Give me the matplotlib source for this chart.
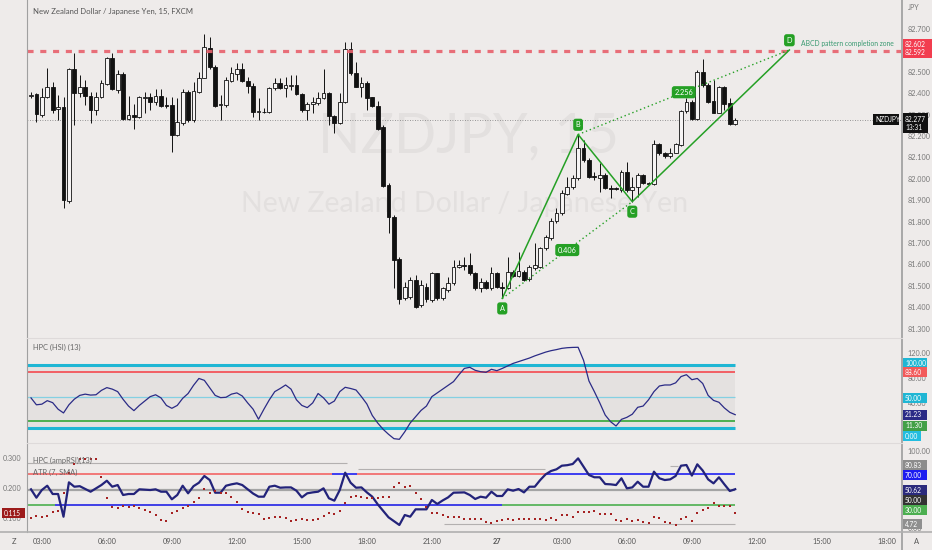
import matplotlib
matplotlib.use("Agg")
import matplotlib.pyplot as plt
import numpy as np
from matplotlib.lines import Line2D
from matplotlib.patches import Rectangle
from matplotlib.transforms import IdentityTransform
from matplotlib.ticker import FormatStrFormatter

plt.rcParams['font.family'] = ['Lato', 'DejaVu Sans']

# == NZDJPY, 15 min bars, first bar = 26th 02:30 == #
opens = [
    82.388, 82.394, 82.298, 82.383, 82.427, 82.324, 82.334, 81.898, 82.511, 82.399,
    82.430, 82.387, 82.321, 82.383, 82.443, 82.563, 82.415, 82.488, 82.278, 82.298,
    82.287, 82.379, 82.383, 82.360, 82.387, 82.343, 82.345, 82.204, 82.259, 82.404,
    82.274, 82.407, 82.472, 82.609, 82.524, 82.343, 82.345, 82.458, 82.489, 82.511,
    82.458, 82.433, 82.312, 82.313, 82.310, 82.422, 82.449, 82.422, 82.433, 82.438,
    82.396, 82.321, 82.349, 82.355, 82.376, 82.399, 82.295, 82.262, 82.360, 82.606,
    82.493, 82.427, 82.446, 82.380, 82.340, 82.240, 81.971, 81.823, 81.625, 81.441,
    81.449, 81.527, 81.410, 81.496, 81.433, 81.558, 81.441, 81.480, 81.511, 81.586,
    81.597, 81.597, 81.558, 81.488, 81.519, 81.488, 81.558, 81.496, 81.488, 81.566,
    81.545, 81.566, 81.530, 81.581, 81.589, 81.675, 81.722, 81.804, 81.838, 81.929,
    81.960, 82.002, 82.142, 82.088, 82.014, 82.002, 82.017, 81.955, 81.955, 81.947,
    82.033, 81.947, 81.963, 82.017, 81.979, 81.975, 82.162, 82.119, 82.106, 82.122,
    82.158, 82.316, 82.360, 82.278, 82.500, 82.438, 82.363, 82.309, 82.430, 82.355,
    82.256]
highs = [
    82.407, 82.399, 82.422, 82.516, 82.454, 82.391, 82.383, 82.516, 82.586, 82.485,
    82.461, 82.407, 82.407, 82.461, 82.570, 82.586, 82.508, 82.500, 82.387, 82.349,
    82.388, 82.407, 82.399, 82.418, 82.418, 82.383, 82.383, 82.376, 82.418, 82.415,
    82.454, 82.500, 82.676, 82.664, 82.531, 82.391, 82.477, 82.524, 82.539, 82.542,
    82.477, 82.446, 82.376, 82.329, 82.430, 82.469, 82.469, 82.477, 82.485, 82.485,
    82.402, 82.360, 82.383, 82.407, 82.513, 82.407, 82.298, 82.399, 82.640, 82.640,
    82.547, 82.477, 82.458, 82.383, 82.365, 82.251, 81.982, 81.831, 81.636, 81.519,
    81.542, 81.550, 81.527, 81.511, 81.566, 81.561, 81.496, 81.542, 81.620, 81.620,
    81.636, 81.651, 81.566, 81.535, 81.527, 81.589, 81.566, 81.519, 81.636, 81.575,
    81.659, 81.573, 81.597, 81.698, 81.683, 81.737, 81.815, 81.862, 81.947, 82.010,
    82.017, 82.207, 82.181, 82.095, 82.033, 82.072, 82.025, 81.971, 81.963, 82.041,
    82.080, 82.010, 82.025, 82.022, 81.986, 82.181, 82.168, 82.127, 82.142, 82.165,
    82.321, 82.376, 82.368, 82.508, 82.558, 82.446, 82.461, 82.433, 82.433, 82.376,
    82.282]
lows = [
    82.376, 82.267, 82.290, 82.376, 82.306, 82.274, 81.862, 81.885, 82.251, 82.383,
    82.345, 82.262, 82.298, 82.376, 82.438, 82.415, 82.399, 82.274, 82.274, 82.232,
    82.282, 82.306, 82.321, 82.345, 82.334, 82.329, 82.123, 82.200, 82.251, 82.267,
    82.267, 82.399, 82.469, 82.511, 82.337, 82.274, 82.337, 82.454, 82.461, 82.454,
    82.399, 82.290, 82.274, 82.306, 82.306, 82.415, 82.418, 82.383, 82.415, 82.391,
    82.313, 82.274, 82.306, 82.345, 82.371, 82.251, 82.212, 82.256, 82.355, 82.485,
    82.427, 82.383, 82.321, 82.337, 82.228, 81.963, 81.748, 81.488, 81.415, 81.433,
    81.436, 81.394, 81.402, 81.425, 81.425, 81.433, 81.433, 81.472, 81.503, 81.581,
    81.573, 81.550, 81.480, 81.472, 81.483, 81.480, 81.488, 81.441, 81.483, 81.540,
    81.539, 81.524, 81.524, 81.573, 81.581, 81.667, 81.714, 81.795, 81.831, 81.924,
    81.950, 81.994, 82.080, 82.002, 81.994, 81.940, 81.950, 81.908, 81.947, 81.940,
    81.940, 81.893, 81.916, 81.975, 81.971, 81.971, 82.111, 82.095, 82.098, 82.119,
    82.153, 82.309, 82.274, 82.274, 82.430, 82.355, 82.306, 82.306, 82.321, 82.251,
    82.251]
closes = [
    82.391, 82.301, 82.383, 82.427, 82.321, 82.334, 81.900, 82.511, 82.399, 82.430,
    82.387, 82.321, 82.383, 82.446, 82.563, 82.418, 82.488, 82.278, 82.298, 82.290,
    82.383, 82.383, 82.360, 82.387, 82.340, 82.340, 82.204, 82.264, 82.404, 82.274,
    82.410, 82.472, 82.614, 82.521, 82.340, 82.348, 82.461, 82.493, 82.511, 82.458,
    82.433, 82.313, 82.316, 82.310, 82.422, 82.449, 82.422, 82.438, 82.438, 82.396,
    82.321, 82.349, 82.360, 82.379, 82.399, 82.293, 82.262, 82.360, 82.606, 82.493,
    82.430, 82.446, 82.379, 82.340, 82.235, 81.966, 81.823, 81.620, 81.436, 81.496,
    81.527, 81.402, 81.503, 81.436, 81.558, 81.441, 81.488, 81.511, 81.589, 81.597,
    81.594, 81.558, 81.488, 81.519, 81.488, 81.558, 81.496, 81.488, 81.566, 81.545,
    81.570, 81.527, 81.589, 81.597, 81.675, 81.726, 81.804, 81.838, 81.932, 81.963,
    82.002, 82.142, 82.088, 82.010, 82.007, 82.017, 81.955, 81.952, 81.952, 82.033,
    81.947, 81.963, 82.017, 81.979, 81.976, 82.162, 82.119, 82.106, 82.122, 82.161,
    82.316, 82.360, 82.278, 82.500, 82.438, 82.360, 82.309, 82.430, 82.349, 82.256,
    82.277]

# == HPC (HSI) (13) == #
hsi = [
    48, 37, 38, 43.6, 40.4, 30, 24, 37, 46, 52,
    54, 52.5, 53, 60, 64.4, 62, 58, 45.7, 35, 27.7,
    36, 43, 50, 53, 48, 36, 31.4, 36, 47.3, 55,
    68, 79, 76, 64, 52, 48.4, 49, 54, 56, 51,
    40, 30, 14, 30, 45, 58, 63, 68.6, 62, 45,
    36, 32.5, 40, 55, 48, 38, 43, 58, 64.9, 63,
    60.6, 50, 38.3, 20, 8, -2, -10, -17, -18, -6,
    8, 18, 28, 35, 50, 56, 62, 68, 74, 85,
    95, 96.8, 92, 89.8, 88.8, 93.6, 91.4, 95, 99, 103,
    105.8, 108.5, 111.5, 115, 118, 121, 123.3, 125, 127, 128,
    128.5, 128.7, 108, 75, 58, 40, 20.7, 10, 3.2, 13.8,
    17, 22, 33, 35, 45, 58, 67, 68.6, 68.6, 72,
    82, 85, 77, 79, 71, 52, 44, 41, 32, 25,
    21.23]

# == HPC (ampRSI)(13), right scale == #
amp_rsi = [
    50.5, 39.6, 49.6, 55.2, 44.4, 44.4, 14.8, 59.6, 53.9, 54.6,
    51, 47.4, 51.8, 56.1, 61.7, 53.9, 56.1, 43.1, 44.4, 44.4,
    50.5, 50, 49.6, 50.5, 47.4, 47.4, 37.5, 43.1, 55.2, 45.3,
    54.6, 59.1, 67.9, 62.6, 46.1, 46.1, 55.2, 57, 58.3, 56.1,
    50.5, 45, 40.9, 40.9, 53.9, 55.2, 52.6, 53, 53, 48.7,
    40, 45.3, 46.5, 47.4, 51.8, 38.8, 35.7, 49.6, 72.2, 59.1,
    52.6, 53, 46.5, 40.9, 31, 22.6, 14, 9, 4, 17,
    14.8, 24.4, 24.4, 24.4, 36.6, 31.4, 36, 40, 46.1, 46.3,
    46.5, 43.1, 37.9, 40.9, 39.6, 47.4, 41.8, 41.8, 50.5, 48.7,
    50.9, 46.5, 53.9, 53.9, 62.6, 70, 74.4, 76.6, 81.3, 82,
    83.5, 90.9, 80, 69.2, 66.2, 66.2, 57.4, 57, 56.1, 64.9,
    51.8, 53, 60.4, 53.9, 53.9, 73.5, 64.9, 62.6, 63.5, 67.9,
    81.3, 82.2, 68.4, 83.1, 75, 63.5, 58.3, 66.2, 57, 48.3,
    50.62]

# == ATR (7, SMA), left scale == #
atr = [
    0.101, 0.108, 0.104, 0.107, 0.121, 0.123, 0.184, 0.249, 0.280, 0.297,
    0.298, 0.296, 0.297, 0.236, 0.166, 0.138, 0.132, 0.140, 0.138, 0.140,
    0.134, 0.127, 0.121, 0.110, 0.093, 0.091, 0.116, 0.124, 0.132, 0.140,
    0.154, 0.166, 0.196, 0.182, 0.191, 0.182, 0.182, 0.169, 0.154, 0.129,
    0.121, 0.118, 0.113, 0.096, 0.099, 0.102, 0.102, 0.099, 0.091, 0.093,
    0.096, 0.093, 0.093, 0.096, 0.107, 0.116, 0.113, 0.124, 0.151, 0.171,
    0.173, 0.169, 0.166, 0.166, 0.166, 0.169, 0.169, 0.204, 0.218, 0.204,
    0.208, 0.182, 0.162, 0.138, 0.118, 0.118, 0.110, 0.104, 0.104, 0.102,
    0.097, 0.096, 0.096, 0.096, 0.088, 0.082, 0.090, 0.093, 0.096, 0.093,
    0.097, 0.097, 0.097, 0.097, 0.097, 0.093, 0.099, 0.093, 0.110, 0.110,
    0.102, 0.121, 0.121, 0.121, 0.123, 0.113, 0.113, 0.113, 0.093, 0.091,
    0.096, 0.091, 0.093, 0.088, 0.084, 0.102, 0.099, 0.088, 0.084, 0.077,
    0.096, 0.102, 0.091, 0.116, 0.127, 0.134, 0.149, 0.140, 0.140, 0.140,
    0.115]

# == ABCD pattern == #
abcd_bars = [87, 101, 111, 140]
abcd_prices = [81.441, 82.207, 81.893, 82.602]
abcd_names = ['A', 'B', 'C', 'D']
ratio_ac = '0.406'
ratio_bd = '2.256'
zone_top, zone_bottom = 82.602, 82.592
last_price = 82.277

# == indicator levels: (value, start bar, end bar, colour) == #
amp_70 = [(70, None, 55.5, '#f26464'), (70, 55.5, 60.2, '#1f1ff2'),
          (70, 60.2, 95.3, '#f26464'), (70, 95.3, 130, '#1f1ff2')]
amp_30 = [(30, None, 4.4, '#4caf50'), (30, 4.4, 86.9, '#2323e6'),
          (30, 86.9, 130, '#4caf50')]
amp_band = [(84.8, None, 58.3), (76.6, 60.4, 94.9), (80.83, 118, 119.5),
            (4.72, 76.2, 130)]

# == time axis == #
first_bar_hour = 2.5
tick_hours = [3, 6, 9, 12, 15, 18, 21, 24, 27, 30, 33, 36, 39, 42]
tick_labels = ['03:00', '06:00', '09:00', '12:00', '15:00', '18:00', '21:00',
               '27', '03:00', '06:00', '09:00', '12:00', '15:00', '18:00']

# == layout (pixels) == #
W, H = 932, 550
X0, X1 = 27, 902
Y_HSI, Y_RSI, Y_AX = 338, 443, 532
BAR_PX0, BAR_PX = 31, 5.417
BG = '#eeebea'
GREEN = '#25a025'
NAVY = '#2b2b86'

def rect(x0, y0, x1, y1):
    return [x0 / W, 1 - y1 / H, (x1 - x0) / W, (y1 - y0) / H]

fig = plt.figure(figsize=(W / 100, H / 100), dpi=100, facecolor=BG)
ax = fig.add_axes(rect(X0, 0, X1, Y_HSI))
ax_h = fig.add_axes(rect(X0, Y_HSI, X1, Y_RSI), sharex=ax)
ax_r = fig.add_axes(rect(X0, Y_RSI, X1, Y_AX), sharex=ax)
ax_a = fig.add_axes(rect(X0, Y_RSI, X1, Y_AX), sharex=ax)
ax_a.patch.set_visible(False)

xlim = ((X0 - BAR_PX0) / BAR_PX, (X1 - BAR_PX0) / BAR_PX)
for a in (ax, ax_h, ax_r, ax_a):
    a.set_facecolor(BG)
    for s in a.spines.values():
        s.set_visible(False)
    a.tick_params(length=0, labelsize=5.2, colors='#777777')
ax.set_xlim(xlim)

n = len(closes)
idx = np.arange(n)
o, h, l, c = map(np.asarray, (opens, highs, lows, closes))

# == candles == #
up = c >= o
lo = np.minimum(o, c)
ht = np.maximum(np.abs(c - o), 0.004)
ax.vlines(idx, l, h, color='#111111', lw=0.7, zorder=2)
ax.bar(idx[up], ht[up], bottom=lo[up], width=0.7, color='#f6f4f4',
       edgecolor='#111111', lw=0.6, zorder=3)
ax.bar(idx[~up], ht[~up], bottom=lo[~up], width=0.7, color='#111111',
       edgecolor='#111111', lw=0.6, zorder=3)

ax.set_ylim(81.256, 82.8355)
ax.set_yticks(np.arange(81.3, 82.75, 0.1))
ax.yaxis.set_major_formatter(FormatStrFormatter('%.3f'))
ax.yaxis.tick_right()
ax.tick_params(axis='y', pad=4)
ax.tick_params(axis='x', labelbottom=False)

# watermark
ax.text(0.505, 0.596, 'NZDJPY, 15', transform=ax.transAxes, ha='center',
        va='center', fontsize=40, color='#e3e0df', zorder=0.5)
ax.text(0.5, 0.396, 'New Zealand Dollar / Japanese Yen', transform=ax.transAxes,
        ha='center', va='center', fontsize=20.5, color='#e3e0df', zorder=0.5)

# completion zone + last price
ax.axhline((zone_top + zone_bottom) / 2, color='#e8606c', lw=2.3,
           dashes=(1.9, 2.1), alpha=0.9, zorder=4)
ax.axhline(last_price, color='#7a7a7a', lw=0.6, ls=(0, (1, 2)), zorder=1)

# ABCD
ax.plot(abcd_bars, abcd_prices, color=GREEN, lw=1.1, zorder=5)
ax.plot([abcd_bars[0], abcd_bars[2]], [abcd_prices[0], abcd_prices[2]],
        color=GREEN, lw=1.0, ls=(0, (1, 2)), zorder=5)
ax.plot([abcd_bars[1], abcd_bars[3]], [abcd_prices[1], abcd_prices[3]],
        color=GREEN, lw=1.0, ls=(0, (1, 2)), zorder=5)
for k, (b, p, name) in enumerate(zip(abcd_bars, abcd_prices, abcd_names)):
    dy = -7.2 if k % 2 == 0 else 7.0
    ax.annotate(name, (b, p), xytext=(0, dy), textcoords='offset points',
                ha='center', va='center', fontsize=5.3, color='white',
                bbox=dict(boxstyle='round,pad=0.35', fc=GREEN, ec='none'),
                zorder=6)
for (i0, i1), txt in (((0, 2), ratio_ac), ((1, 3), ratio_bd)):
    ax.annotate(txt, ((abcd_bars[i0] + abcd_bars[i1]) / 2,
                      (abcd_prices[i0] + abcd_prices[i1]) / 2),
                ha='center', va='center', fontsize=5.3, color='white',
                bbox=dict(boxstyle='round,pad=0.35', fc=GREEN, ec='none'),
                zorder=6)
ax.annotate('ABCD pattern completion zone', (abcd_bars[3], zone_top),
            xytext=(8.5, 4.5), textcoords='offset points', ha='left',
            va='center', fontsize=4.9, color='#3a9a72', zorder=6)

# == HSI pane == #
ax_h.set_ylim(-23.9, 143.5)
ax_h.fill_between([xlim[0], n - 1], 0, 100, color='#e4e1e0', lw=0, zorder=0.5)
for v, col, lw in ((100, '#1fb6d4', 2.2), (0, '#1fb6d4', 2.2),
                   (88.6, '#f25f64', 1.4), (50, '#84d0e2', 0.9),
                   (11.3, '#4caf50', 1.4)):
    ax_h.hlines(v, xlim[0], n - 1, color=col, lw=lw, zorder=1)
ax_h.plot(idx, hsi, color=NAVY, lw=0.9, zorder=3)
ax_h.set_yticks([40, 80, 120])
ax_h.yaxis.set_major_formatter(FormatStrFormatter('%.2f'))
ax_h.yaxis.tick_right()
ax_h.tick_params(axis='y', pad=4)
ax_h.tick_params(axis='x', labelbottom=False)

# == ampRSI / ATR pane == #
ax_r.set_ylim(-5.15, 110.9)
ax_r.hlines(50, xlim[0], n - 1, color='#a4a4a4', lw=1.6, zorder=1)
for v, s, e, col in amp_70 + amp_30:
    ax_r.hlines(v, xlim[0] if s is None else s, e, color=col, lw=1.2, zorder=1)
for v, s, e in amp_band:
    ax_r.hlines(v, xlim[0] if s is None else s, e, color='#b3b0b0', lw=0.8,
                zorder=1)
ax_r.plot(idx, amp_rsi, color='#23237a', lw=1.6, zorder=3)
ax_r.set_yticks([0, 50, 100])
ax_r.yaxis.set_major_formatter(FormatStrFormatter('%.2f'))
ax_r.yaxis.tick_right()
ax_r.tick_params(axis='y', pad=4)
ax_r.set_xticks([(hh - first_bar_hour) * 4 for hh in tick_hours])
ax_r.set_xticklabels(tick_labels)
ax_r.tick_params(axis='x', pad=4.5, colors='#555555', labelsize=5.3)
for t in ax_r.get_xticklabels():
    if t.get_text() == '27':
        t.set_fontweight('bold')

ax_a.set_ylim(0.0533, 0.35)
ax_a.scatter(idx, atr, s=2.2, color='#a52222', marker='s', lw=0, zorder=4)
ax_a.set_yticks([0.1, 0.2, 0.3])
ax_a.yaxis.set_major_formatter(FormatStrFormatter('%.3f'))
ax_a.yaxis.tick_left()
ax_a.tick_params(axis='y', pad=4)
ax_a.tick_params(axis='x', labelbottom=False)

# == frame lines == #
def fline(x0, y0, x1, y1, col, lw):
    fig.add_artist(Line2D([x0 / W, x1 / W], [1 - y0 / H, 1 - y1 / H],
                          color=col, lw=lw, transform=fig.transFigure))

fline(X0, 0, X0, Y_AX, '#a0a0a0', 0.8)
fline(X1, 0, X1, H, '#a8a8a8', 1.4)
fline(0, Y_AX, W, Y_AX, '#b0b0b0', 1.2)
fline(X0, Y_HSI, X1, Y_HSI, '#dedada', 0.8)
fline(X0, Y_RSI, X1, Y_RSI, '#dedada', 0.8)

# == texts == #
def ptext(x, y, s, **kw):
    kw.setdefault('fontsize', 5.4)
    kw.setdefault('color', '#666666')
    fig.text(x / W, 1 - y / H, s, va='center', **kw)

ptext(33, 11, 'New Zealand Dollar / Japanese Yen, 15, FXCM', color='#555555',
      fontsize=5.6)
ptext(908, 8, 'JPY', color='#777777', fontsize=5.2)
ptext(33, 347, 'HPC (HSI) (13)')
ptext(33, 460, 'HPC (ampRSI)(13)')
ptext(33, 472.5, 'ATR (7, SMA)')
ptext(14, 541, 'Z', ha='center', color='#555555')
ptext(917, 541, 'A', ha='center', color='#555555')

# == scale tags (nudge in pixels, + = down) == #
def tag(a, value, text, fc, nudge=0, x0=903, x1=927, hgt=10):
    y = a.transData.transform((0, value))[1] - nudge
    fig.add_artist(Rectangle((x0, y - hgt / 2), x1 - x0, hgt, fc=fc, ec='none',
                             transform=IdentityTransform(), zorder=5))
    fig.text(x0 + 2, y, text, transform=IdentityTransform(), color='white',
             fontsize=4.8, va='center', ha='left', zorder=6)

tag(ax, (zone_top + zone_bottom) / 2, '%.3f\n%.3f' % (zone_top, zone_bottom),
    '#f23d4f', nudge=-2.8, x1=932, hgt=19)
tag(ax, last_price, '%.3f\n13:31' % last_price, '#111111', nudge=3.7, x1=928,
    hgt=20)
tag(ax, last_price, 'NZDJPY', '#111111', x0=873, x1=899, hgt=11)
tag(ax_h, 100, '100.00', '#1fb6d4', nudge=-2)
tag(ax_h, 88.6, '88.60', '#f25a5a')
tag(ax_h, 50, '50.00', '#1fb6d4', nudge=1.4)
tag(ax_h, hsi[-1], '%.2f' % hsi[-1], NAVY)
tag(ax_h, 11.3, '11.30', '#43a047', nudge=5)
tag(ax_h, 0, '0.00', '#22bde0', nudge=8, x1=921)
tag(ax_r, 80.83, '80.83', '#8c8c8c', nudge=-1)
tag(ax_r, 70, '70.00', '#1c1cf0', nudge=1)
tag(ax_r, amp_rsi[-1], '%.2f' % amp_rsi[-1], '#2a2a7c', nudge=0.8)
tag(ax_r, 50, '50.00', '#333333', nudge=10.3)
tag(ax_r, 30, '30.00', '#4caf50', nudge=5)
tag(ax_r, 4.72, '4.72', '#8f8f8f', x1=922)
tag(ax_a, atr[-1], '%.3f' % atr[-1], '#9c1b1b', x0=2, x1=25)

fig.savefig('out.png', dpi=100, facecolor=BG)
